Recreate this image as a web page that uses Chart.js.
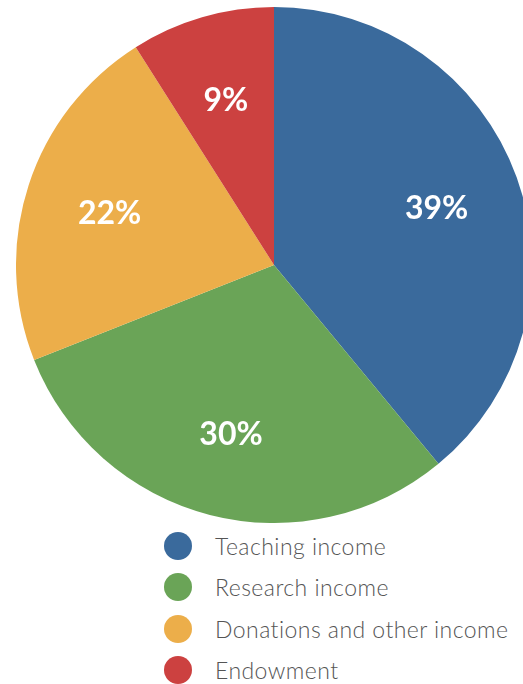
<!DOCTYPE html>
<html>
<head>
<meta charset="utf-8">
<script src="https://cdn.jsdelivr.net/npm/chart.js@4"></script>
<style>
  html, body { margin: 0; padding: 0; background: #fff; width: 523px; height: 684px; overflow: hidden; }
  #wrap { position: absolute; left: 16px; top: 7px; width: 516px; height: 516px; }
  #legend { position: absolute; left: 164px; top: 525px; font-family: Lato, "Open Sans", sans-serif; font-weight: 300; }
  .item { display: flex; align-items: center; height: 41.5px; }
  .dot { width: 28px; height: 28px; border-radius: 50%; margin-right: 23px; }
  .txt { font-size: 23px; color: #555; letter-spacing: 0.45px; white-space: nowrap; }
</style>
</head>
<body>
<div id="wrap"><canvas id="pie"></canvas></div>
<div id="legend"></div>
<script>
// income shares, percent
const labels = ['Teaching income', 'Research income', 'Donations and other income', 'Endowment'];
const shares = [39, 30, 22, 9];
const colors = ['#3a6a9c', '#6aa457', '#ecae4a', '#cc4140'];

// percent text drawn inside each slice
const sliceLabels = {
  id: 'sliceLabels',
  afterDatasetsDraw(chart) {
    const ctx = chart.ctx;
    const meta = chart.getDatasetMeta(0);
    ctx.save();
    ctx.fillStyle = '#fff';
    ctx.font = 'bold 32px Lato, "Open Sans", sans-serif';
    ctx.textAlign = 'center';
    ctx.textBaseline = 'middle';
    meta.data.forEach((arc, i) => {
      const { x, y, startAngle, endAngle, outerRadius } = arc.getProps(['x', 'y', 'startAngle', 'endAngle', 'outerRadius'], true);
      const mid = (startAngle + endAngle) / 2;
      const r = outerRadius * 0.67;
      ctx.fillText(shares[i] + '%', x + Math.cos(mid) * r, y + Math.sin(mid) * r + 2);
    });
    ctx.restore();
  }
};

new Chart(document.getElementById('pie'), {
  type: 'pie',
  data: {
    labels,
    datasets: [{
      data: shares,
      backgroundColor: colors,
      borderWidth: 0,
    }]
  },
  options: {
    responsive: true,
    maintainAspectRatio: false,
    animation: false,
    layout: { padding: 0 },
    plugins: {
      legend: { display: false },
      tooltip: { enabled: false },
    }
  },
  plugins: [sliceLabels]
});

document.getElementById('legend').innerHTML = labels.map((l, i) => `
  <div class="item"><div class="dot" style="background:${colors[i]}"></div><div class="txt">${l}</div></div>`).join('');
</script>
</body>
</html>
